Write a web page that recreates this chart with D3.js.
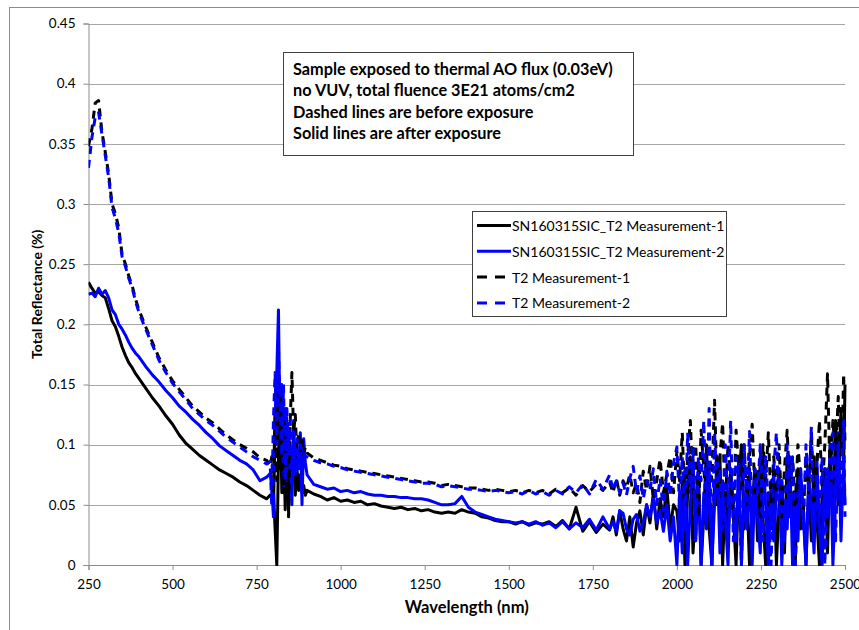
<!DOCTYPE html>
<html>
<head>
<meta charset="utf-8">
<script src="https://cdn.jsdelivr.net/npm/d3@7/dist/d3.min.js"></script>
<style>
  html, body { margin: 0; padding: 0; background: #fff; }
  svg { display: block; font-family: Lato, "Open Sans", sans-serif; }
</style>
</head>
<body>
<svg id="chart" width="859" height="630"></svg>
<script>
// ---------- DATA ----------
// wavelength sampling grid (nm), by segment
const waveSegA = d3.range(250, 401, 10);    // 16
const waveSegB = d3.range(420, 781, 20);    // 19
const waveSegC = d3.range(790, 901, 5);     // 23
const waveSegD = d3.range(920, 1801, 20);   // 45
const waveSegE = d3.range(1810, 2001, 10);  // 20
const waveSegF = d3.range(2008, 2497, 8).concat([2500]); // 63
const wavelengths = [].concat(waveSegA, waveSegB, waveSegC, waveSegD, waveSegE, waveSegF);

// SN160315SIC_T2 Measurement-1 (after exposure, solid black)
const after1 = [
  0.235, 0.230, 0.226, 0.227, 0.224, 0.222, 0.213, 0.203, 0.198, 0.190, 0.181, 0.174, 0.168, 0.164, 0.159, 0.155,
  0.147, 0.139, 0.132, 0.124, 0.117, 0.108, 0.101, 0.096, 0.091, 0.087, 0.083, 0.079, 0.076, 0.073, 0.069, 0.066, 0.062, 0.058, 0.055,
  0.058, 0.056, 0.062, 0.030, 0.000, 0.090, 0.140, 0.060, 0.110, 0.046, 0.120, 0.045, 0.090, 0.070, 0.100, 0.058, 0.080, 0.062, 0.075, 0.060, 0.066, 0.058, 0.062,
  0.059, 0.057, 0.054, 0.056, 0.053, 0.054, 0.052, 0.053, 0.050, 0.051, 0.049, 0.048, 0.047, 0.048, 0.046, 0.047, 0.045, 0.046, 0.044, 0.043, 0.044, 0.043, 0.046, 0.044, 0.043,
  0.040, 0.039, 0.037, 0.036, 0.036, 0.034, 0.036, 0.033, 0.035, 0.034, 0.036, 0.032, 0.037, 0.030, 0.048, 0.028, 0.036, 0.027, 0.034, 0.029,
  0.040, 0.025, 0.045, 0.030, 0.020, 0.040, 0.015, 0.035, 0.045, 0.025, 0.050, 0.035, 0.060, 0.030, 0.055, 0.040, 0.065, 0.030, 0.050, 0.045,
  0.02, 0.07, 0.00, 0.06, 0.09, 0.01, 0.05, 0.08, 0.00, 0.04,
  0.10, 0.03, 0.00, 0.07, 0.05, 0.09, 0.00, 0.06, 0.02, 0.08,
  0.04, 0.00, 0.07, 0.10, 0.03, 0.06, 0.00, 0.05, 0.08, 0.02,
  0.09, 0.04, 0.00, 0.06, 0.03, 0.08, 0.00, 0.05, 0.07, 0.01,
  0.09, 0.04, 0.06, 0.00, 0.08, 0.03, 0.05, 0.00, 0.07, 0.02,
  0.09, 0.04, 0.00, 0.06, 0.08, 0.01, 0.10, 0.03, 0.12, 0.05,
  0.13, 0.08, 0.15
];

// SN160315SIC_T2 Measurement-2 (after exposure, solid blue)
const after2 = [
  0.225, 0.226, 0.223, 0.230, 0.225, 0.228, 0.222, 0.212, 0.208, 0.200, 0.196, 0.191, 0.185, 0.180, 0.176, 0.173,
  0.165, 0.158, 0.152, 0.145, 0.139, 0.132, 0.127, 0.121, 0.116, 0.110, 0.105, 0.099, 0.095, 0.091, 0.087, 0.084, 0.079, 0.070, 0.073,
  0.076, 0.065, 0.040, 0.120, 0.160, 0.212, 0.100, 0.150, 0.060, 0.130, 0.070, 0.110, 0.090, 0.050, 0.120, 0.075, 0.095, 0.080, 0.110, 0.050, 0.105, 0.085, 0.075,
  0.067, 0.065, 0.063, 0.064, 0.061, 0.062, 0.060, 0.061, 0.059, 0.058, 0.058, 0.057, 0.057, 0.056, 0.056, 0.055, 0.055, 0.054, 0.052, 0.050, 0.050, 0.051, 0.057, 0.048, 0.044,
  0.042, 0.040, 0.038, 0.037, 0.036, 0.035, 0.036, 0.034, 0.036, 0.033, 0.035, 0.031, 0.036, 0.030, 0.035, 0.031, 0.038, 0.029, 0.040, 0.030,
  0.036, 0.028, 0.045, 0.043, 0.030, 0.025, 0.038, 0.042, 0.028, 0.035, 0.050, 0.040, 0.055, 0.035, 0.045, 0.028, 0.050, 0.020, 0.040, 0.000,
  0.06, 0.01, 0.08, 0.00, 0.05, 0.09, 0.02, 0.07, 0.00, 0.06,
  0.03, 0.08, 0.00, 0.05, 0.09, 0.01, 0.07, 0.04, 0.00, 0.08,
  0.05, 0.02, 0.09, 0.00, 0.06, 0.03, 0.08, 0.00, 0.07, 0.04,
  0.01, 0.09, 0.05, 0.00, 0.07, 0.02, 0.06, 0.08, 0.00, 0.05,
  0.03, 0.09, 0.00, 0.06, 0.02, 0.08, 0.04, 0.00, 0.07, 0.05,
  0.01, 0.09, 0.03, 0.00, 0.08, 0.04, 0.10, 0.00, 0.06, 0.11,
  0.02, 0.09, 0.05
];

// T2 Measurement-1 (before exposure, dashed black)
const before1 = [
  0.348, 0.362, 0.384, 0.386, 0.360, 0.343, 0.325, 0.300, 0.292, 0.280, 0.258, 0.250, 0.240, 0.232, 0.221, 0.212,
  0.198, 0.185, 0.172, 0.162, 0.153, 0.146, 0.139, 0.132, 0.127, 0.122, 0.118, 0.113, 0.108, 0.104, 0.100, 0.097, 0.094, 0.089, 0.087,
  0.082, 0.090, 0.060, 0.130, 0.070, 0.150, 0.080, 0.140, 0.060, 0.120, 0.090, 0.040, 0.120, 0.160, 0.110, 0.125, 0.090, 0.110, 0.095, 0.105, 0.092, 0.098, 0.093,
  0.089, 0.087, 0.085, 0.083, 0.082, 0.080, 0.079, 0.078, 0.077, 0.076, 0.075, 0.074, 0.073, 0.072, 0.071, 0.070, 0.069, 0.069, 0.068, 0.066, 0.067, 0.066, 0.065, 0.064, 0.064,
  0.063, 0.062, 0.063, 0.062, 0.061, 0.062, 0.060, 0.062, 0.060, 0.062, 0.059, 0.063, 0.060, 0.064, 0.058, 0.066, 0.061, 0.067, 0.062, 0.069,
  0.060, 0.072, 0.058, 0.070, 0.064, 0.075, 0.060, 0.068, 0.052, 0.078, 0.062, 0.082, 0.055, 0.070, 0.088, 0.060, 0.075, 0.090, 0.060, 0.095,
  0.07, 0.11, 0.05, 0.09, 0.12, 0.06, 0.10, 0.04, 0.112, 0.08,
  0.05, 0.10, 0.07, 0.137, 0.06, 0.09, 0.118, 0.05, 0.10, 0.07,
  0.04, 0.112, 0.08, 0.06, 0.10, 0.05, 0.09, 0.117, 0.06, 0.08,
  0.04, 0.10, 0.07, 0.11, 0.05, 0.09, 0.06, 0.10, 0.04, 0.08,
  0.112, 0.06, 0.09, 0.05, 0.10, 0.07, 0.04, 0.09, 0.06, 0.11,
  0.05, 0.08, 0.12, 0.06, 0.10, 0.159, 0.07, 0.12, 0.09, 0.14,
  0.06, 0.159, 0.10
];

// T2 Measurement-2 (before exposure, dashed blue)
const before2 = [
  0.330, 0.355, 0.372, 0.376, 0.358, 0.340, 0.322, 0.297, 0.288, 0.276, 0.256, 0.248, 0.238, 0.230, 0.219, 0.210,
  0.196, 0.183, 0.170, 0.160, 0.151, 0.144, 0.137, 0.130, 0.125, 0.120, 0.116, 0.111, 0.106, 0.102, 0.098, 0.094, 0.090, 0.087, 0.084,
  0.086, 0.050, 0.120, 0.160, 0.100, 0.180, 0.130, 0.090, 0.150, 0.070, 0.130, 0.095, 0.120, 0.080, 0.110, 0.090, 0.105, 0.085, 0.100, 0.088, 0.095, 0.090, 0.090,
  0.087, 0.085, 0.084, 0.082, 0.081, 0.079, 0.078, 0.077, 0.076, 0.075, 0.074, 0.073, 0.072, 0.071, 0.070, 0.069, 0.068, 0.068, 0.067, 0.065, 0.066, 0.065, 0.064, 0.063, 0.063,
  0.062, 0.061, 0.062, 0.061, 0.060, 0.061, 0.059, 0.062, 0.059, 0.061, 0.058, 0.062, 0.059, 0.065, 0.060, 0.067, 0.059, 0.071, 0.063, 0.075,
  0.062, 0.070, 0.060, 0.068, 0.058, 0.072, 0.082, 0.060, 0.074, 0.055, 0.070, 0.062, 0.080, 0.050, 0.072, 0.045, 0.078, 0.058, 0.085, 0.098,
  0.05, 0.09, 0.03, 0.11, 0.06, 0.10, 0.02, 0.09, 0.07, 0.12,
  0.04, 0.13, 0.00, 0.11, 0.06, 0.08, 0.03, 0.10, 0.05, 0.12,
  0.02, 0.09, 0.07, 0.00, 0.10, 0.05, 0.111, 0.03, 0.08, 0.06,
  0.10, 0.02, 0.09, 0.05, 0.00, 0.08, 0.11, 0.04, 0.07, 0.02,
  0.10, 0.06, 0.09, 0.00, 0.05, 0.08, 0.03, 0.10, 0.06, 0.115,
  0.02, 0.07, 0.04, 0.09, 0.00, 0.08, 0.05, 0.11, 0.02, 0.10,
  0.06, 0.12, 0.04
];

const seriesNames = ["SN160315SIC_T2 Measurement-1", "SN160315SIC_T2 Measurement-2", "T2 Measurement-1", "T2 Measurement-2"];
const seriesValues = [after1, after2, before1, before2];
const seriesColors = ["#000000", "#0000ff", "#000000", "#0000ff"];
const seriesDashed = [false, false, true, true];

const xTicks = [250, 500, 750, 1000, 1250, 1500, 1750, 2000, 2250, 2500];
const yTicks = [0, 0.05, 0.1, 0.15, 0.2, 0.25, 0.3, 0.35, 0.4, 0.45];
const noteLines = [
  "Sample exposed to thermal AO flux (0.03eV)",
  "no VUV, total fluence 3E21 atoms/cm2",
  "Dashed lines are before exposure",
  "Solid lines are after exposure"
];
const xTitle = "Wavelength (nm)";
const yTitle = "Total Reflectance (%)";

// ---------- CHART ----------
const svg = d3.select("#chart");
const plot = { left: 88.5, right: 845, top: 23.5, bottom: 565 };

svg.append("rect").attr("x", 9.5).attr("y", 7.5).attr("width", 860).attr("height", 640)
  .attr("fill", "#fff").attr("stroke", "#8c8c8c").attr("stroke-width", 1);

const x = d3.scaleLinear().domain([250, 2500]).range([plot.left, plot.right]);
const y = d3.scaleLinear().domain([0, 0.45]).range([plot.bottom, plot.top]);

// gridlines
svg.append("g").selectAll("line").data(yTicks.filter(d => d > 0)).join("line")
  .attr("x1", plot.left).attr("x2", plot.right)
  .attr("y1", d => Math.round(y(d)) + 0.5).attr("y2", d => Math.round(y(d)) + 0.5)
  .attr("stroke", "#a6a6a6").attr("stroke-width", 1);

// y axis
const yAxis = svg.append("g").attr("transform", `translate(${plot.left},0)`)
  .call(d3.axisLeft(y).tickValues(yTicks).tickFormat(d => d3.format("")(+d.toFixed(2))).tickSize(5).tickPadding(8));
yAxis.select(".domain").attr("stroke", "#8c8c8c");
yAxis.selectAll(".tick line").attr("stroke", "#8c8c8c");
yAxis.selectAll(".tick text").attr("font-family", "Lato, sans-serif").attr("font-size", 13.5).attr("fill", "#000");

// x axis
const xAxis = svg.append("g").attr("transform", `translate(0,${plot.bottom})`)
  .call(d3.axisBottom(x).tickValues(xTicks).tickFormat(d3.format("d")).tickSize(5).tickPadding(9));
xAxis.select(".domain").attr("stroke", "#8c8c8c");
xAxis.selectAll(".tick line").attr("stroke", "#8c8c8c");
xAxis.selectAll(".tick text").attr("font-family", "Lato, sans-serif").attr("font-size", 13.5).attr("fill", "#000");

// clip
svg.append("clipPath").attr("id", "clip").append("rect")
  .attr("x", plot.left).attr("y", plot.top - 5).attr("width", plot.right - plot.left + 2).attr("height", plot.bottom - plot.top + 6);

const line = d3.line().x((d, i) => x(wavelengths[i])).y(d => y(d));
const lines = svg.append("g").attr("clip-path", "url(#clip)");
seriesValues.forEach((vals, k) => {
  lines.append("path").datum(vals)
    .attr("d", line)
    .attr("fill", "none")
    .attr("stroke", seriesColors[k])
    .attr("stroke-width", 3)
    .attr("stroke-linejoin", "round")
    .attr("stroke-dasharray", seriesDashed[k] ? "8,6" : null);
});

// note box
const note = svg.append("g");
note.append("rect").attr("x", 283.5).attr("y", 52.5).attr("width", 350).attr("height", 103)
  .attr("fill", "#fff").attr("stroke", "#404040").attr("stroke-width", 1);
note.selectAll("text").data(noteLines).join("text")
  .attr("x", 293).attr("y", (d, i) => 68.5 + i * 21.3)
  .attr("dominant-baseline", "central")
  .attr("font-size", 16.3).attr("font-weight", "bold").attr("fill", "#000")
  .text(d => d);

// legend
const leg = svg.append("g");
leg.append("rect").attr("x", 472.5).attr("y", 211.5).attr("width", 254).attr("height", 105)
  .attr("fill", "#fff").attr("stroke", "#404040").attr("stroke-width", 1);
seriesNames.forEach((name, k) => {
  const cy = 225.5 + k * 25.8;
  leg.append("line").attr("x1", 477).attr("x2", 511).attr("y1", cy).attr("y2", cy)
    .attr("stroke", seriesColors[k]).attr("stroke-width", 3)
    .attr("stroke-dasharray", seriesDashed[k] ? "10,8" : null);
  leg.append("text").attr("x", 512).attr("y", cy).attr("dominant-baseline", "central")
    .attr("font-size", 14).attr("fill", "#000").text(name);
});

// axis titles
svg.append("text").attr("x", (plot.left + plot.right) / 2).attr("y", 607)
  .attr("text-anchor", "middle").attr("dominant-baseline", "central")
  .attr("font-size", 16.5).attr("font-weight", "bold").text(xTitle);
svg.append("text").attr("transform", `translate(36,${(plot.top + plot.bottom) / 2}) rotate(-90)`)
  .attr("text-anchor", "middle").attr("dominant-baseline", "central")
  .attr("font-size", 14).attr("font-weight", "bold").text(yTitle);
</script>
</body>
</html>
